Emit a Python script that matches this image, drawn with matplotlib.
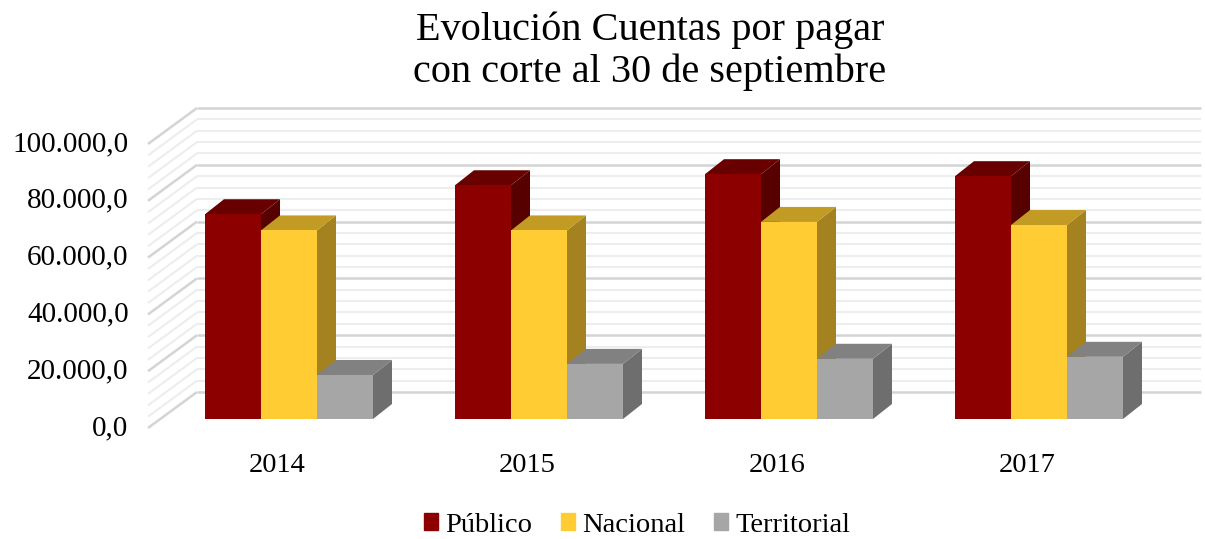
import matplotlib.pyplot as plt
from matplotlib.patches import Patch

years = ['2014', '2015', '2016', '2017']
series = ['Público', 'Nacional', 'Territorial']
publico = [72100, 82300, 86200, 85500]
nacional = [66400, 66400, 69400, 68300]
territorial = [15500, 19400, 21200, 21900]
yticks = [0, 20000, 40000, 60000, 80000, 100000]
ytick_labels = ['0,0', '20.000,0', '40.000,0', '60.000,0', '80.000,0', '100.000,0']

front_cols = ['#8c0000', '#ffcc33', '#a6a6a6']
top_cols = ['#690000', '#c29b25', '#818181']
side_cols = ['#560000', '#a3821f', '#6e6e6e']

plt.rcParams['font.family'] = ['Liberation Serif', 'DejaVu Serif']

W, H = 1205, 539
fig = plt.figure(figsize=(W / 100, H / 100), dpi=100)
ax = fig.add_axes([0, 0, 1, 1])
ax.axis('off')

# layout in pixels: first group centre, group spacing, bar floor, px per unit
x0_px, step_px, floor_px, px_per_unit = 289, 250, 419, 0.00284
ax.set_xlim(-x0_px / step_px, (W - x0_px) / step_px)
ax.set_ylim((floor_px - H) / px_per_unit, floor_px / px_per_unit)

# fake 3d depth offsets (data units)
bar_dx, bar_dy = 19 / step_px, 15 / px_per_unit
front_dx, front_dy = -12 / step_px, -9 / px_per_unit
back_dx, back_dy = 37 / step_px, 27 / px_per_unit
wall_left, wall_right = (160 - x0_px) / step_px, 3.5

# back wall and side wall gridlines
for v in range(0, 100001, 4000):
    major = v % 20000 == 0
    c = '#d4d4d4' if major else '#ededed'
    lw = 1.8 if major else 1.5
    ax.plot([wall_left + back_dx, wall_right + back_dx], [v + back_dy] * 2,
            color=c, lw=lw, zorder=1, solid_capstyle='butt')
    ax.plot([wall_left + front_dx, wall_left + back_dx], [v + front_dy, v + back_dy],
            color=c, lw=lw, zorder=1, solid_capstyle='butt')

# bars: side, top, then front face
w = 56 / step_px
z = 2
for i in range(len(years)):
    for j, vals in enumerate([publico, nacional, territorial]):
        h = vals[i]
        xl = i + (j - 1) * w - w / 2
        xr = xl + w
        ax.fill([xr, xr + bar_dx, xr + bar_dx, xr], [0, bar_dy, h + bar_dy, h],
                color=side_cols[j], lw=0, zorder=z)
        ax.fill([xl, xl + bar_dx, xr + bar_dx, xr], [h, h + bar_dy, h + bar_dy, h],
                color=top_cols[j], lw=0, zorder=z + 0.1)
        ax.bar(xl, h, width=w, align='edge', color=front_cols[j], lw=0, zorder=z + 0.2)
        z += 1

# value axis labels on the front plane
for v, lab in zip(yticks, ytick_labels):
    ax.annotate(lab, xy=(wall_left + front_dx, v + front_dy), xytext=(-14, 0),
                textcoords='offset points', ha='right', va='center', fontsize=21)

# category labels
for i, yr in enumerate(years):
    ax.annotate(yr, xy=(i + front_dx, front_dy), xytext=(0, -27),
                textcoords='offset points', ha='center', va='center', fontsize=20.5)

fig.text(650 / W, 1 - 51 / H, 'Evolución Cuentas por pagar\ncon corte al 30 de septiembre',
         ha='center', va='center', fontsize=29, linespacing=1.15)

handles = [Patch(color=c) for c in front_cols]
fig.legend(handles, series, loc='center', bbox_to_anchor=(637 / W, 1 - 525 / H), ncol=3,
           frameon=False, fontsize=20.5, handlelength=0.5, handleheight=0.5,
           handletextpad=0.25, columnspacing=1.0)

fig.savefig('out.png', dpi=100)
